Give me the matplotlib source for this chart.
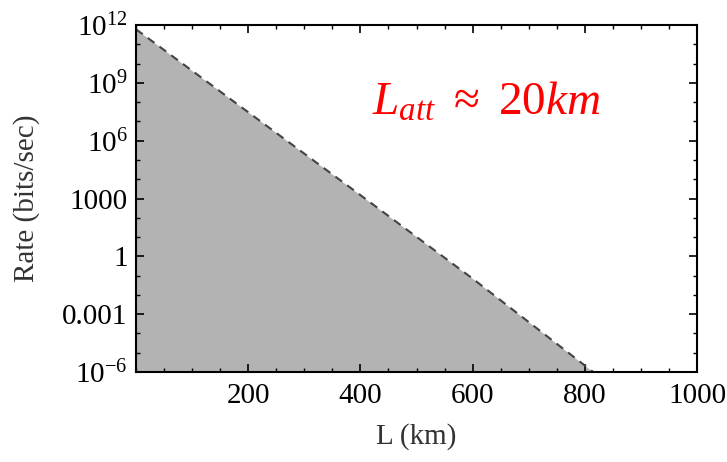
import matplotlib
matplotlib.use("Agg")
import matplotlib.pyplot as plt
from matplotlib.ticker import FixedLocator, FixedFormatter, MultipleLocator

# values
dist_km = [0, 200, 400, 600, 815]
rate = [6e11, 3e7, 1.5e3, 7e-2, 1e-6]

y_ticks = [1e-6, 1e-3, 1, 1e3, 1e6, 1e9, 1e12]
y_labels = [r"$10^{-6}$", "0.001", "1", "1000", r"$10^{6}$", r"$10^{9}$", r"$10^{12}$"]
x_ticks = [200, 400, 600, 800, 1000]

plt.rcParams["font.family"] = ["Liberation Serif", "DejaVu Serif"]
plt.rcParams["mathtext.fontset"] = "custom"
plt.rcParams["mathtext.rm"] = "Liberation Serif"
plt.rcParams["mathtext.it"] = "Liberation Serif:italic"

fig = plt.figure(figsize=(7.27, 4.62), dpi=100)
ax = fig.add_axes([136 / 727, 1 - 372 / 462, (697 - 136) / 727, (372 - 25) / 462])

ax.fill_between(dist_km, rate, 1e-6, color="#b3b3b3", lw=0)
ax.plot(dist_km, rate, ls=(0, (4, 3)), color="#444444", lw=1.5)

ax.set_yscale("log")
ax.set_xlim(0, 1000)
ax.set_ylim(1e-6, 1e12)

ax.yaxis.set_major_locator(FixedLocator(y_ticks))
ax.yaxis.set_major_formatter(FixedFormatter(y_labels))
ax.yaxis.set_minor_locator(FixedLocator([10.0 ** k for k in range(-6, 13)]))
ax.yaxis.set_minor_formatter(FixedFormatter([]))
ax.xaxis.set_major_locator(FixedLocator(x_ticks))
ax.xaxis.set_minor_locator(MultipleLocator(50))

ax.tick_params(which="both", direction="in", top=True, right=True, labelsize=21)
ax.tick_params(which="major", length=6, width=1.2)
ax.tick_params(which="minor", length=3, width=1)
ax.tick_params(axis="x", pad=8)
ax.tick_params(axis="y", pad=6)
for s in ax.spines.values():
    s.set_linewidth(1.5)

ax.set_xlabel("L (km)", fontsize=21, color="#333333", labelpad=10)
ax.set_ylabel("Rate (bits/sec)", fontsize=21, color="#333333", labelpad=16)

ax.text(0.625, 0.775, r"$L_{att}$ $\approx$ 20$km$", transform=ax.transAxes,
        color="red", fontsize=34, ha="center", va="center")

fig.savefig("out.png", dpi=100)
